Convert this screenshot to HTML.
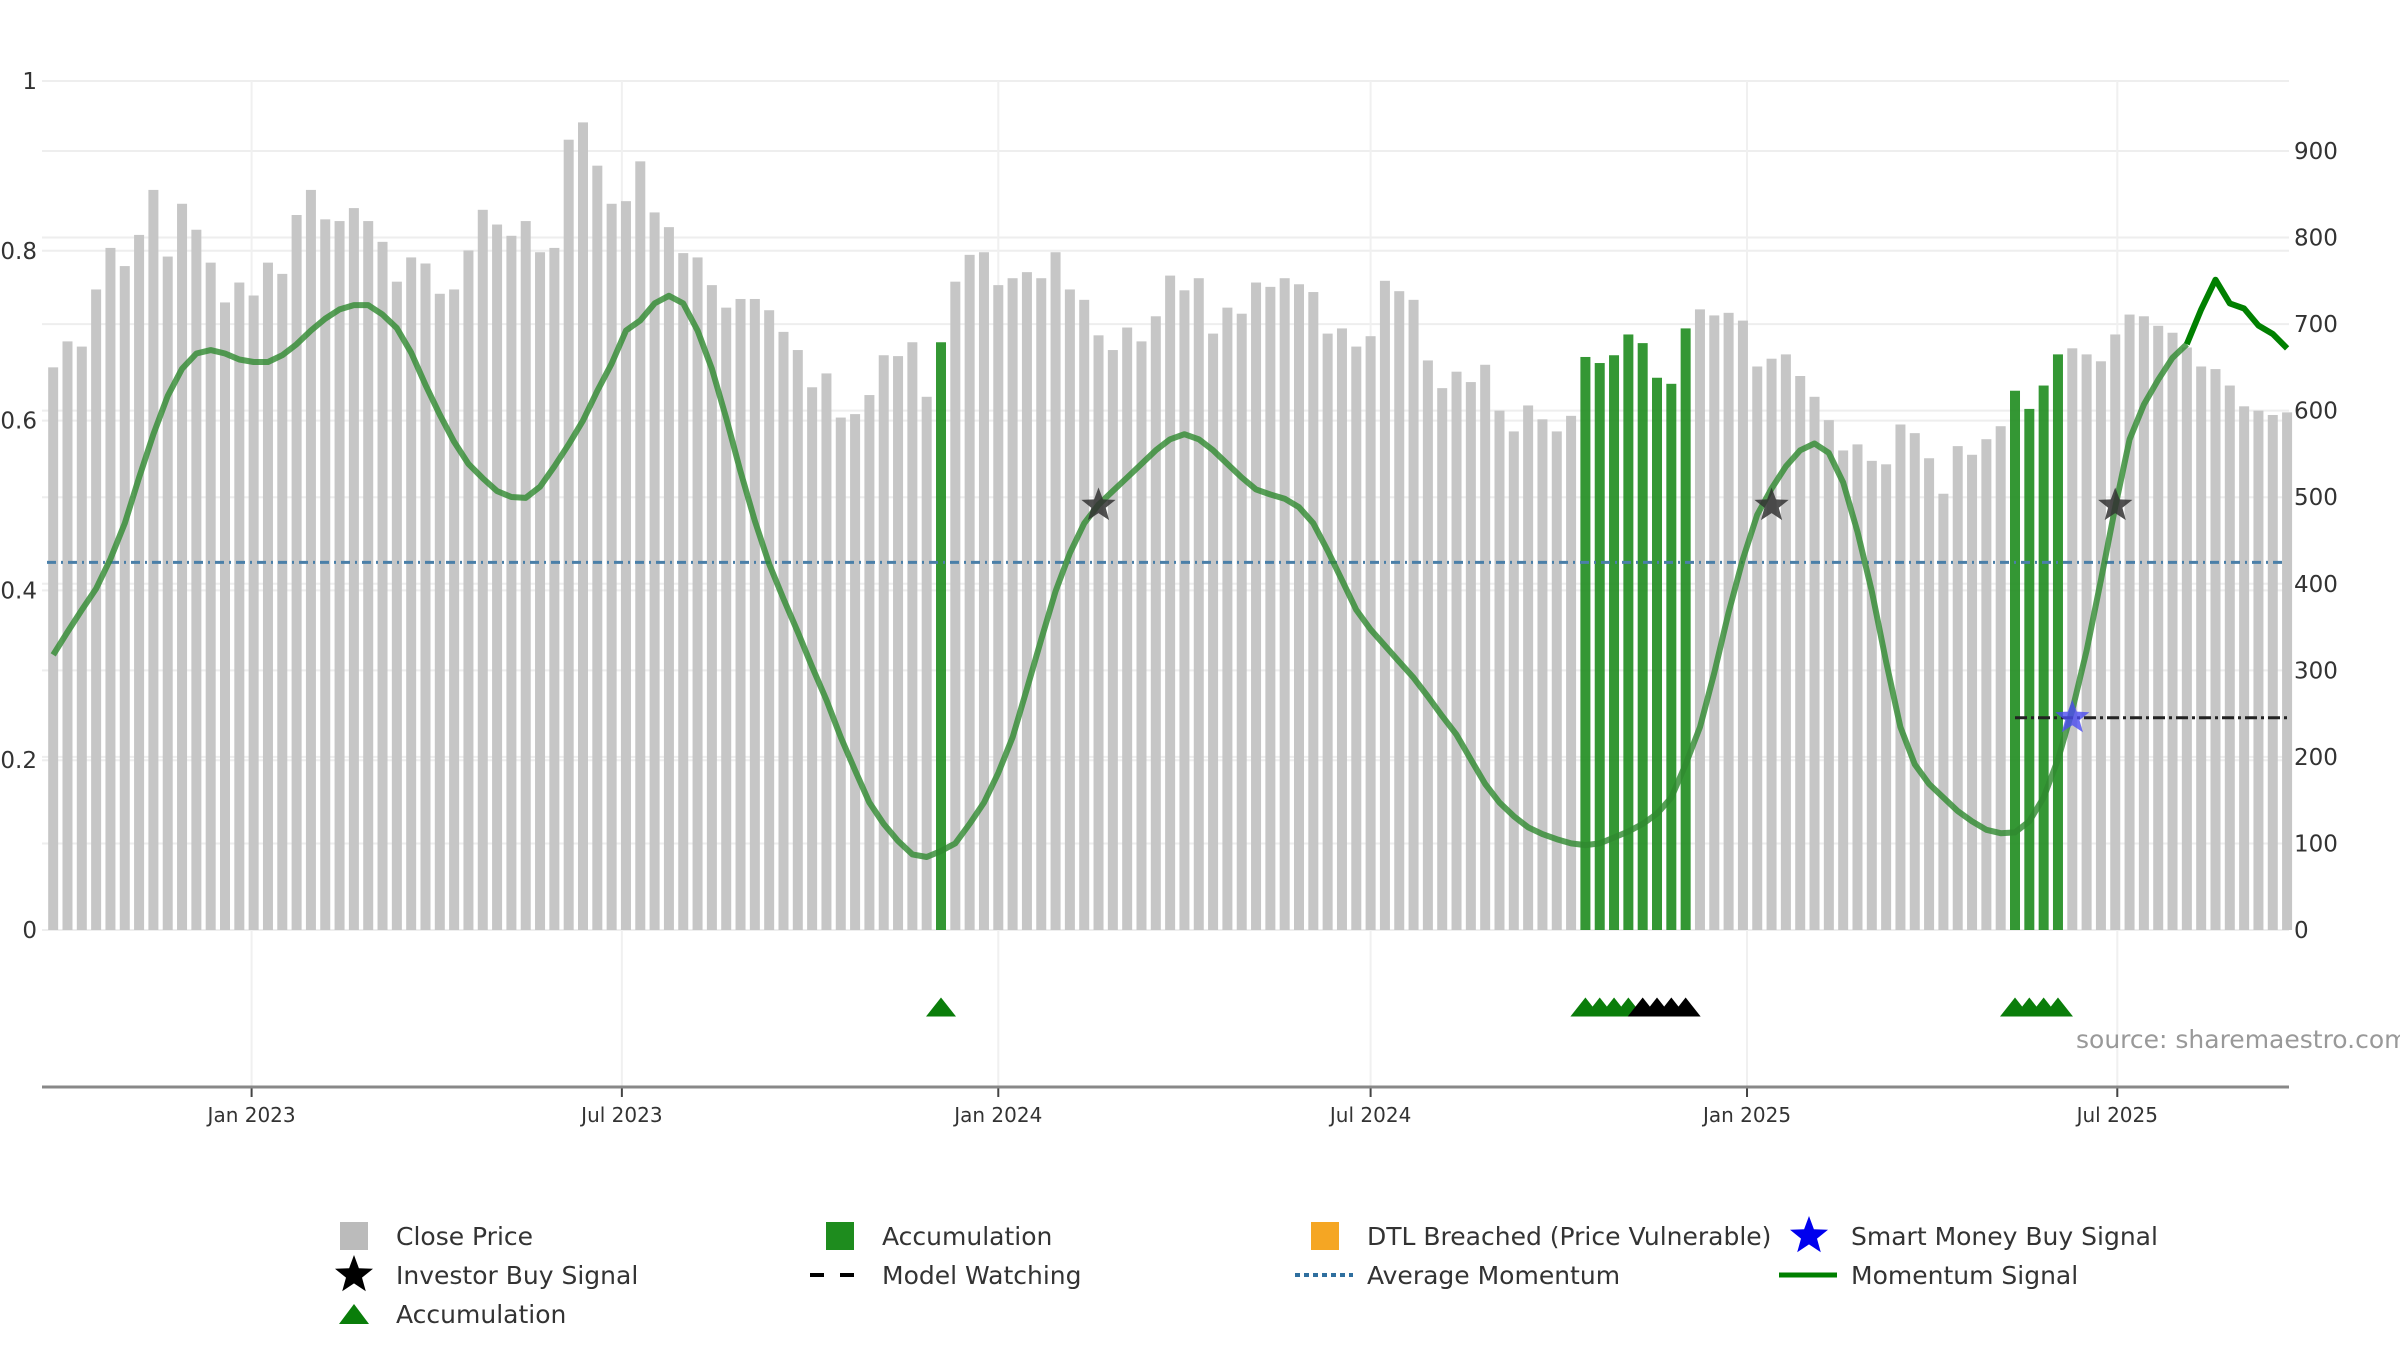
<!DOCTYPE html>
<html><head><meta charset="utf-8"><style>
html,body{margin:0;padding:0;background:#fff;}
svg{display:block;font-family:"DejaVu Sans","Liberation Sans",sans-serif;}
</style></head><body>
<svg id="chart" width="2400" height="1350" viewBox="0 0 2400 1350" xmlns="http://www.w3.org/2000/svg">
<g id="grid"></g>
<g id="bars"></g>
<g id="lines"></g>
<g id="marks"></g>
<g id="axes"></g>
<text x="2076" y="1048" font-size="25" fill="#999">source: sharemaestro.com</text>
<g id="legend"></g>
</svg>
<script>
const startDate = "2022-09-26";
const prices = [650,680,674,740,788,767,803,855,778,839,809,771,725,748,733,771,758,826,855,821,819,834,819,795,749,777,770,735,740,785,832,815,802,819,783,788,913,933,883,839,842,
888,829,812,782,777,745,719,729,729,716,691,670,627,643,592,596,618,664,663,679,616,679,749,780,783,745,753,760,753,783,740,728,687,670,696,680,709,756,739,753,
689,719,712,748,743,753,746,737,689,695,674,686,750,738,728,658,626,645,633,653,600,576,606,590,576,594,662,655,664,688,678,638,631,695,717,710,713,704,651,
660,665,640,616,589,554,561,542,538,584,574,545,504,559,549,567,582,623,602,629,665,672,665,657,688,711,709,698,690,673,651,648,629,605,600,595,598];
const accumulationBars = [62,107,108,109,110,111,112,113,114,137,138,139,140];
const momentum = [0.324,0.351,0.377,0.402,0.437,0.479,0.533,0.584,0.629,0.661,0.679,0.683,0.679,0.672,0.669,0.669,0.677,0.690,0.706,0.720,0.731,0.736,0.736,0.725,0.709,0.680,0.642,0.607,0.575,0.549,0.532,0.517,0.510,0.509,0.522,0.546,0.572,0.600,0.635,0.667,0.706,
0.718,0.738,0.747,0.738,0.706,0.661,0.603,0.540,0.482,0.431,0.390,0.351,0.310,0.271,0.227,0.188,0.150,0.125,0.105,0.089,0.086,0.093,0.102,0.125,0.150,0.185,0.227,0.284,0.342,0.399,0.444,0.479,0.501,0.517,0.533,0.549,0.565,0.578,0.584,0.578,
0.565,0.549,0.533,0.519,0.513,0.508,0.498,0.479,0.447,0.412,0.377,0.354,0.335,0.316,0.297,0.275,0.252,0.230,0.201,0.172,0.150,0.134,0.121,0.113,0.107,0.102,0.100,0.102,0.109,0.116,0.125,0.137,0.156,0.195,0.239,0.303,0.374,0.437,0.489,
0.520,0.546,0.565,0.573,0.562,0.527,0.469,0.399,0.316,0.239,0.195,0.172,0.156,0.140,0.128,0.118,0.114,0.115,0.128,0.156,0.201,0.259,0.329,0.412,0.498,0.578,0.619,0.648,0.674,0.690,0.731,0.766,0.738,0.732,0.712,0.702,0.685];
const signalStart = 149;
const averageMomentum = 0.433;
const investorBuy = [73,120,144];
const investorLevel = 0.5;
const smartMoneyBuy = [141];
const smartLevel = 0.25;
const modelWatch = [137,156];
const modelLevel = 0.25;
const triGreen = [62,107,108,109,110,137,138,139,140];
const triBlack = [111,112,113,114];
const leftTicks = [0,0.2,0.4,0.6,0.8,1];
const leftTickLabels = ["0","0.2","0.4","0.6","0.8","1"];
const rightTicks = [0,100,200,300,400,500,600,700,800,900];
const dateTicks = ["2023-01-01","2023-07-01","2024-01-01","2024-07-01","2025-01-01","2025-07-01"];
const dateTickLabels = ["Jan 2023","Jul 2023","Jan 2024","Jul 2024","Jan 2025","Jul 2025"];

const NS="http://www.w3.org/2000/svg";
const WEEK=7*864e5, T0=Date.parse("2023-01-01"), X0=251.6, PX=14.32;
function xT(t){return X0+(t-T0)/WEEK*PX;}
function xI(i){return xT(Date.parse(startDate)+i*WEEK);}
function yL(v){return 930-v*849;}
function yR(p){return 930-p*0.8656;}
function el(tag,attrs,parent){const e=document.createElementNS(NS,tag);for(const k in attrs)e.setAttribute(k,attrs[k]);parent.appendChild(e);return e;}
function starPts(cx,cy,r){let s="";for(let k=0;k<10;k++){const a=-Math.PI/2+k*Math.PI/5;const rr=k%2?r*0.42:r;s+=(cx+rr*Math.cos(a)).toFixed(1)+","+(cy+rr*Math.sin(a)).toFixed(1)+" ";}return s;}
function triPts(cx,cy,w,h){return `${cx-w/2},${cy+h/2} ${cx},${cy-h/2} ${cx+w/2},${cy+h/2}`;}

const grid=document.getElementById('grid'),bars=document.getElementById('bars'),lines=document.getElementById('lines'),marks=document.getElementById('marks'),axes=document.getElementById('axes'),legend=document.getElementById('legend');
const XL=42,XR=2289;
leftTicks.forEach((v,i)=>{
  const g=el('line',{x1:XL,x2:XR,y1:yL(v),y2:yL(v),stroke:'#eee','stroke-width':2},grid);
  
  
  const t=el('text',{x:37,y:yL(v)+8,'text-anchor':'end','font-size':23,fill:'#333'},axes);
  t.textContent=leftTickLabels[i];
  
  
});
rightTicks.forEach(v=>{
  const g=el('line',{x1:XL,x2:XR,y1:yR(v),y2:yR(v),stroke:'#eee','stroke-width':2},grid);
  
  
  const t=el('text',{x:2294,y:yR(v)+8,'font-size':23,fill:'#333'},axes);
  t.textContent=String(v);
  
  
});
dateTicks.forEach((d,i)=>{
  const x=xT(Date.parse(d));
  const g=el('line',{x1:x,x2:x,y1:81,y2:1087,stroke:'#f0f0f0','stroke-width':2},grid);
  
  
  el('line',{x1:x,x2:x,y1:1087,y2:1097,stroke:'#444','stroke-width':2},axes);
  const t=el('text',{x:x,y:1122,'text-anchor':'middle','font-size':20,fill:'#333'},axes);
  t.textContent=dateTickLabels[i];
  
  
});
const ax=el('line',{x1:XL,x2:XR,y1:1087,y2:1087,stroke:'#888','stroke-width':3},axes);



prices.forEach((p,i)=>{
  const acc=accumulationBars.includes(i);
  const r=el('rect',{x:xI(i)-5,y:yR(p),width:10,height:930-yR(p),fill:acc?'#1e8c1e':'#c6c6c6','fill-opacity':acc?0.9:1},bars);
  
  
});
// average momentum
const avg=el('line',{x1:47,x2:2285,y1:yL(averageMomentum),y2:yL(averageMomentum),stroke:'#4a7fa8','stroke-width':3,'stroke-dasharray':'9 5 2 5'},lines);


// momentum smoothed
let d="";for(let i=0;i<=signalStart;i++){d+=(i?"L":"M")+xI(i).toFixed(1)+","+yL(momentum[i]).toFixed(1);}
const ml=el('path',{d:d,fill:'none',stroke:'#2f8a2f','stroke-opacity':0.8,'stroke-width':6,'stroke-linejoin':'round'},lines);


let d2="";for(let i=signalStart;i<momentum.length;i++){d2+=(i>signalStart?"L":"M")+xI(i).toFixed(1)+","+yL(momentum[i]).toFixed(1);}
const sl=el('path',{d:d2,fill:'none',stroke:'#008000','stroke-width':6,'stroke-linejoin':'round'},lines);


// model watching
const mw=el('line',{x1:xI(modelWatch[0]),x2:xI(modelWatch[1]),y1:yL(modelLevel),y2:yL(modelLevel),stroke:'#222','stroke-width':3,'stroke-dasharray':'12 4 3 4'},lines);


investorBuy.forEach(i=>{
  const s=el('polygon',{points:starPts(xI(i),yL(investorLevel),18),fill:'#333','fill-opacity':0.85},marks);
  
  
});
smartMoneyBuy.forEach(i=>{
  const s=el('polygon',{points:starPts(xI(i),yL(smartLevel),18),fill:'#4b4bf0','fill-opacity':0.8},marks);
  
  
});
triGreen.forEach(i=>{
  const t=el('polygon',{points:triPts(xI(i),1007,30,19),fill:'#0a7d0a'},marks);
  
  
});
triBlack.forEach(i=>{
  const t=el('polygon',{points:triPts(xI(i),1007,30,19),fill:'#000'},marks);
  
  
});
// legend
const cols=[354,840,1325,1809], rows=[1236,1275,1314];
function ltext(c,r,s){const t=el('text',{x:cols[c]+42,y:rows[r]+9,'font-size':25,fill:'#333'},legend);t.textContent=s;}
function lrect(c,r,col){const e=el('rect',{x:cols[c]-14,y:rows[r]-14,width:28,height:28,fill:col},legend);}
lrect(0,0,'#bbb');ltext(0,0,'Close Price');
lrect(1,0,'#1e8c1e');ltext(1,0,'Accumulation');
lrect(2,0,'#f5a623');ltext(2,0,'DTL Breached (Price Vulnerable)');
let e1=el('polygon',{points:starPts(cols[3],rows[0],20),fill:'#0000ee'},legend);


ltext(3,0,'Smart Money Buy Signal');
let e2=el('polygon',{points:starPts(cols[0],rows[1],20),fill:'#000'},legend);


ltext(0,1,'Investor Buy Signal');
let e3=el('line',{x1:cols[1]-30,x2:cols[1]+28,y1:rows[1],y2:rows[1],stroke:'#000','stroke-width':4,'stroke-dasharray':'14 16'},legend);


ltext(1,1,'Model Watching');
let e4=el('line',{x1:cols[2]-30,x2:cols[2]+28,y1:rows[1],y2:rows[1],stroke:'#2f6f9f','stroke-width':4,'stroke-dasharray':'5 4'},legend);


ltext(2,1,'Average Momentum');
let e5=el('line',{x1:cols[3]-30,x2:cols[3]+28,y1:rows[1],y2:rows[1],stroke:'#008000','stroke-width':5},legend);


ltext(3,1,'Momentum Signal');
let e6=el('polygon',{points:triPts(cols[0],rows[2],30,20),fill:'#0a7d0a'},legend);


ltext(0,2,'Accumulation');
</script>
</body></html>
